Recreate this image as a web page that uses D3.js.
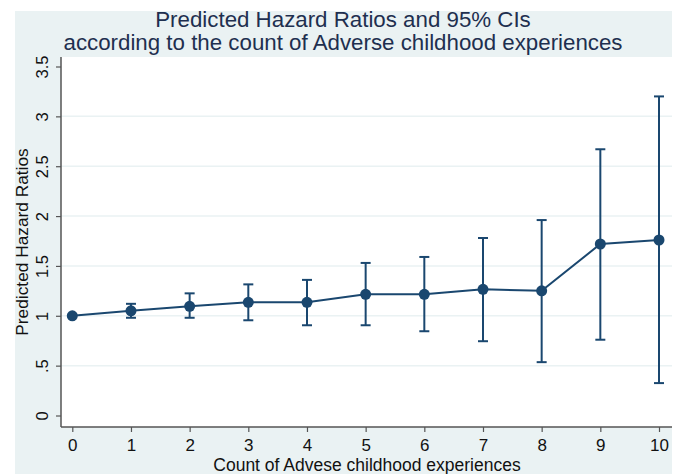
<!DOCTYPE html>
<html>
<head>
<meta charset="utf-8">
<title></title>
<script src="https://cdn.jsdelivr.net/npm/d3@7"></script>
<style>
  body { margin: 0; background: #fff; }
  text { font-family: "Liberation Sans", Arial, sans-serif; }
</style>
</head>
<body>
<svg width="676" height="474"></svg>
<script>
// count of adverse childhood experiences
var counts = [0, 1, 2, 3, 4, 5, 6, 7, 8, 9, 10];
// predicted hazard ratios and 95% CI bounds
var hr = [1.00, 1.05, 1.095, 1.135, 1.135, 1.215, 1.215, 1.265, 1.25, 1.72, 1.76];
var ciLow = [1.00, 0.98, 0.98, 0.955, 0.905, 0.905, 0.845, 0.745, 0.535, 0.76, 0.325];
var ciHigh = [1.00, 1.12, 1.225, 1.315, 1.36, 1.53, 1.59, 1.78, 1.96, 2.67, 3.2];
var yTicks = [0, 0.5, 1, 1.5, 2, 2.5, 3, 3.5];
var yTickLabels = ["0", ".5", "1", "1.5", "2", "2.5", "3", "3.5"];

var navy = "#1a476f";
var svg = d3.select("svg");

// outer panel
svg.append("rect").attr("x", 15).attr("y", 11).attr("width", 657).attr("height", 463)
  .attr("fill", "#eaf2f3");

var plot = {left: 61, right: 672, top: 57, bottom: 427};
svg.append("rect").attr("x", plot.left).attr("y", plot.top)
  .attr("width", plot.right - plot.left).attr("height", plot.bottom - plot.top)
  .attr("fill", "#fff");

var x = d3.scaleLinear().domain([0, 10]).range([72.3, 659]);
var y = d3.scaleLinear().domain([0, 3.5]).range([415.5, 66.5]);

// gridlines
svg.append("g").selectAll("line")
  .data(yTicks.filter(function(d){ return d > 0 && d < 3.5; }))
  .enter().append("line")
  .attr("x1", plot.left).attr("x2", plot.right)
  .attr("y1", function(d){ return y(d); }).attr("y2", function(d){ return y(d); })
  .attr("stroke", "#eaf2f3").attr("stroke-width", 1.5);

// y axis
var yAxis = svg.append("g").attr("transform", "translate(" + plot.left + ",0)")
  .call(d3.axisLeft(y).tickValues(yTicks).tickSize(5).tickPadding(14)
    .tickFormat(function(d, i){ return yTickLabels[i]; }));
yAxis.select(".domain").attr("d", "M0," + plot.top + "V" + plot.bottom)
  .attr("stroke", "#555").attr("stroke-width", 1.5);
yAxis.selectAll(".tick line").attr("stroke", "#555").attr("stroke-width", 1.2);
yAxis.selectAll(".tick text")
  .attr("font-size", 16.5).attr("fill", "#111")
  .attr("text-anchor", "middle").attr("dy", 0)
  .attr("transform", function(){ return "rotate(-90," + (-19) + ",0)"; })
  .attr("x", -19).attr("y", 6);

// x axis
var xAxis = svg.append("g").attr("transform", "translate(0," + plot.bottom + ")")
  .call(d3.axisBottom(x).tickValues(counts).tickSize(5).tickPadding(7)
    .tickFormat(d3.format("d")));
xAxis.select(".domain").attr("d", "M" + plot.left + ",0H" + plot.right)
  .attr("stroke", "#555").attr("stroke-width", 1.5);
xAxis.selectAll(".tick line").attr("stroke", "#555").attr("stroke-width", 1.2);
xAxis.selectAll(".tick text").attr("font-size", 17).attr("fill", "#111");

// axis titles
svg.append("text").attr("transform", "translate(28,242) rotate(-90)")
  .attr("text-anchor", "middle").attr("font-size", 17.3).attr("fill", "#111")
  .text("Predicted Hazard Ratios");
svg.append("text").attr("x", 367).attr("y", 471)
  .attr("text-anchor", "middle").attr("font-size", 17.5).attr("fill", "#111")
  .text("Count of Advese childhood experiences");

// title
var title = svg.append("text").attr("text-anchor", "middle").attr("fill", "#1e2f4f")
  .attr("font-size", 22.3);
title.append("tspan").attr("x", 343).attr("y", 27).text("Predicted Hazard Ratios and 95% CIs");
title.append("tspan").attr("x", 343).attr("y", 50)
  .text("according to the count of Adverse childhood experiences");

// error bars
var bars = svg.append("g").selectAll("g")
  .data(counts.filter(function(d){ return ciHigh[d] > ciLow[d]; }))
  .enter().append("g").attr("stroke", navy).attr("stroke-width", 2);
bars.append("line")
  .attr("x1", function(d){ return x(d); }).attr("x2", function(d){ return x(d); })
  .attr("y1", function(d){ return y(ciLow[d]); }).attr("y2", function(d){ return y(ciHigh[d]); });
bars.append("line")
  .attr("x1", function(d){ return x(d) - 5; }).attr("x2", function(d){ return x(d) + 5; })
  .attr("y1", function(d){ return y(ciLow[d]); }).attr("y2", function(d){ return y(ciLow[d]); });
bars.append("line")
  .attr("x1", function(d){ return x(d) - 5; }).attr("x2", function(d){ return x(d) + 5; })
  .attr("y1", function(d){ return y(ciHigh[d]); }).attr("y2", function(d){ return y(ciHigh[d]); });

// connecting line
var line = d3.line().x(function(d){ return x(d); }).y(function(d){ return y(hr[d]); });
svg.append("path").datum(counts).attr("d", line)
  .attr("fill", "none").attr("stroke", navy).attr("stroke-width", 2);

// markers
svg.append("g").selectAll("circle").data(counts).enter().append("circle")
  .attr("cx", function(d){ return x(d); }).attr("cy", function(d){ return y(hr[d]); })
  .attr("r", 5.5).attr("fill", navy);
</script>
</body>
</html>
